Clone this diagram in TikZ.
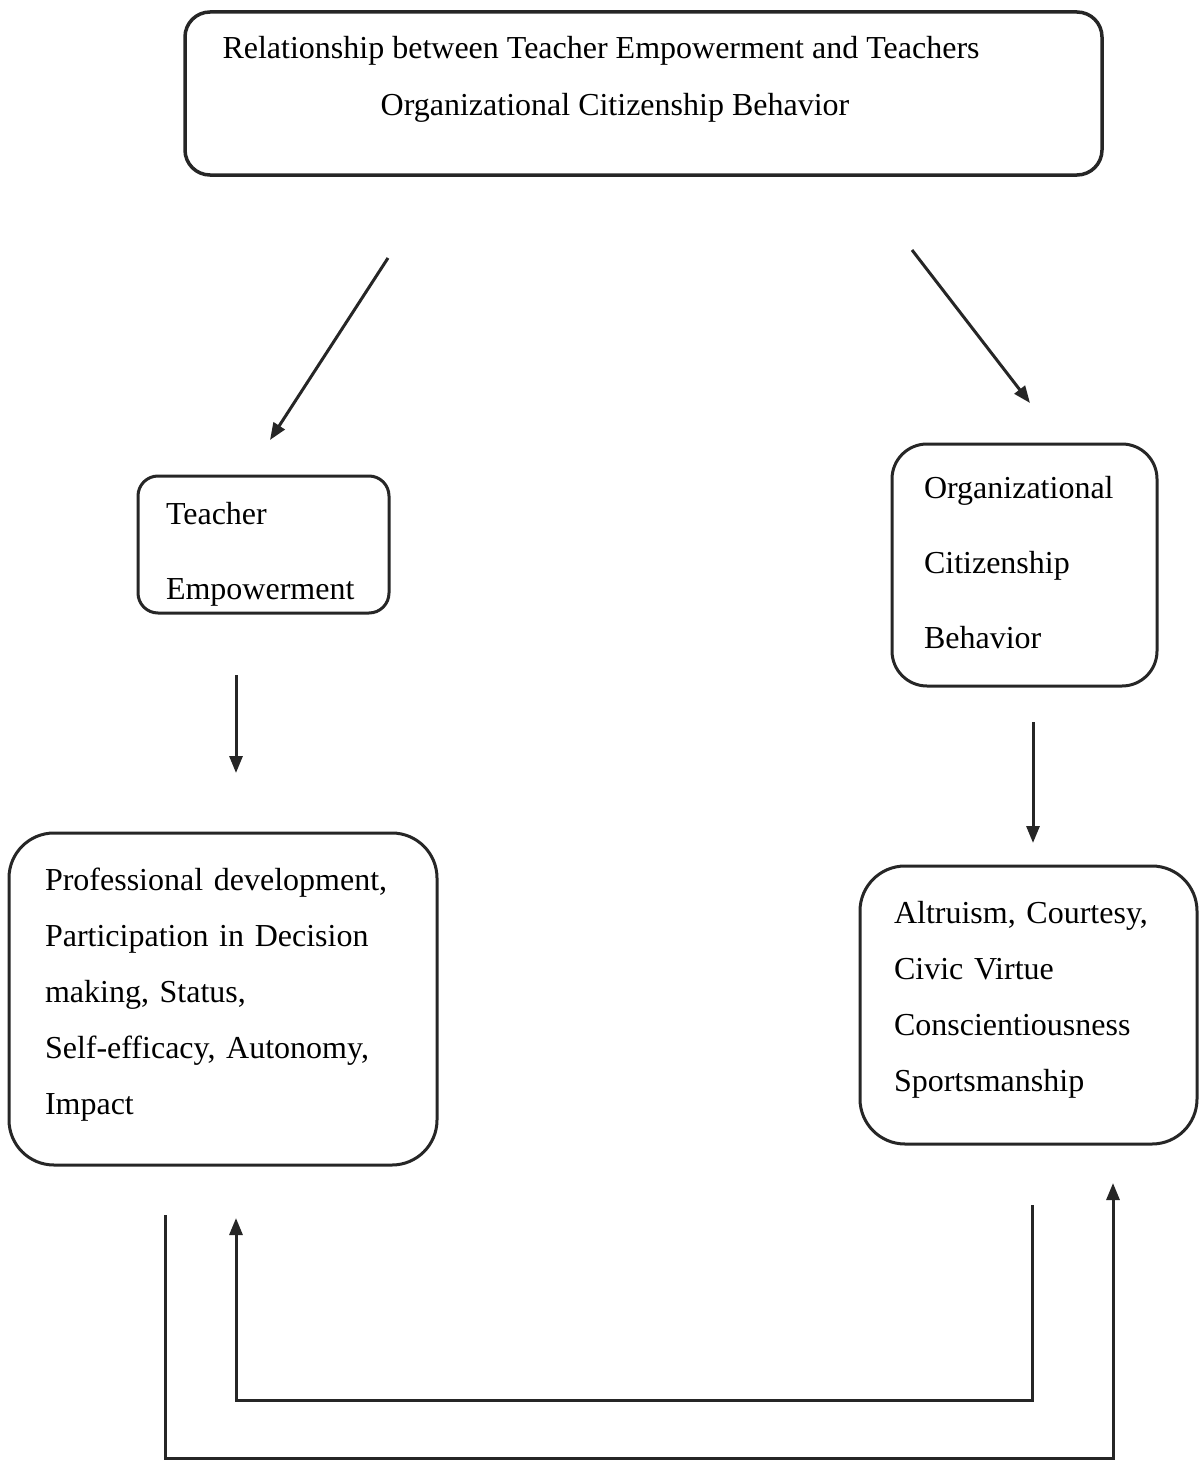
\documentclass[tikz,border=0pt]{standalone}
\usepackage{fontspec}
\setmainfont{Liberation Serif}
\usetikzlibrary{arrows.meta}
\begin{document}
\begin{tikzpicture}[x=1pt, y=-1pt]
	\tikzstyle{box}=[rectangle, draw=black!85, line width=3pt, align=left, inner sep=0pt]
	\tikzstyle{wide}=[font=\fontsize{32}{56}\selectfont]
	\tikzstyle{tall}=[font=\fontsize{32}{75}\selectfont]
	\tikzstyle{link}=[draw=black!85, line width=3pt, -{Triangle[length=17pt, width=13pt]}]
	\useasboundingbox (0, 0) rectangle (1200, 1461);
	% boxes
	\draw node[box, rounded corners=25pt, line width=3.5pt, minimum width=917pt, minimum height=163pt] at (643.5, 93.5) (title) {};
	\draw node[align=center, font=\fontsize{32}{57}\selectfont] at (601, 79) (titletext) {Relationship between Teacher Empowerment and Teachers\\\hspace*{28pt}Organizational Citizenship Behavior};
	\draw node[box, tall, rounded corners=20pt, minimum width=251pt, minimum height=137pt, text width=195pt, text height=42pt, text depth=82pt] at (263.5, 544.5) (te) {Teacher\\Empowerment};
	\draw node[box, tall, rounded corners=35pt, minimum width=265pt, minimum height=242pt, text width=201pt, text height=22pt, text depth=156pt] at (1024.5, 565) (ocb) {Organizational\\Citizenship\\Behavior};
	\draw node[box, wide, rounded corners=45pt, minimum width=428pt, minimum height=332pt, text width=356pt, text height=22pt, text depth=239pt] at (223, 999) (dims) {Professional development,\\Participation in Decision\\making, Status,\\Self-efficacy, Autonomy,\\Impact};
	\draw node[box, wide, rounded corners=45pt, minimum width=337pt, minimum height=278pt, text width=269pt, text height=22pt, text depth=186pt] at (1028.5, 1005) (ocbdims) {Altruism, Courtesy,\\Civic Virtue\\Conscientiousness\\Sportsmanship};
	% free ends of the arrows
	\coordinate (tl) at (388, 258);
	\coordinate (tlend) at (270, 440);
	\coordinate (tr) at (912, 250);
	\coordinate (trend) at (1030, 403);
	\coordinate (teout) at (236, 675);
	\coordinate (tein) at (236, 773);
	\coordinate (ocbout) at (1033, 722);
	\coordinate (ocbin) at (1033, 843);
	\coordinate (backstart) at (1032, 1205);
	\coordinate (backa) at (1032, 1400);
	\coordinate (backb) at (236, 1400);
	\coordinate (backend) at (236, 1218);
	\coordinate (forstart) at (165, 1215);
	\coordinate (fora) at (165, 1458);
	\coordinate (forb) at (1113, 1458);
	\coordinate (forend) at (1113, 1183);

	\draw [link] (tl) -- (tlend);
	\draw [link] (tr) -- (trend);
	\draw [link] (teout) -- (tein);
	\draw [link] (ocbout) -- (ocbin);
	\draw [link] (backstart) -- (backa) -- (backb) -- (backend);
	\draw [link] (forstart) -- (fora) -- (forb) -- (forend);
\end{tikzpicture}
\end{document}
